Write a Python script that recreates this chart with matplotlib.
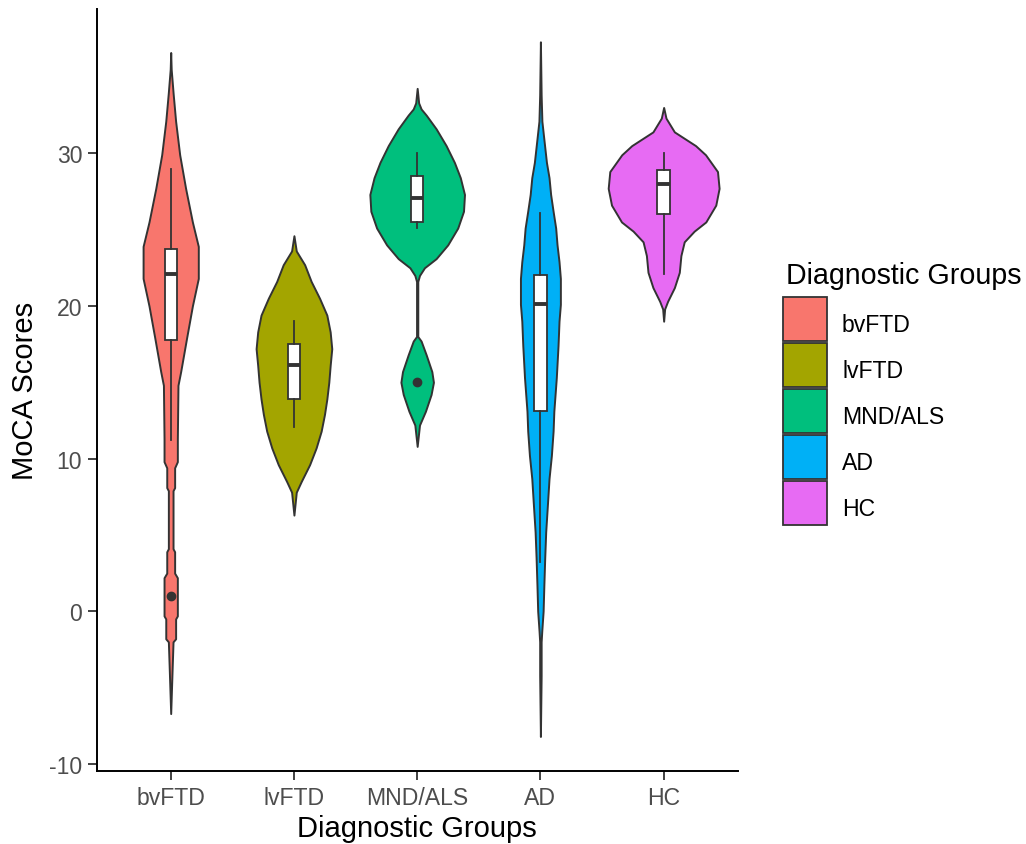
import matplotlib
matplotlib.use("Agg")
import matplotlib.pyplot as plt
from matplotlib.patches import Rectangle
import numpy as np

plt.rcParams['font.family'] = ['Liberation Sans', 'DejaVu Sans']

# Groups and ggplot hue colours
groups = ["bvFTD", "lvFTD", "MND/ALS", "AD", "HC"]
colors = ["#F8766D", "#A3A500", "#00BF7D", "#00B0F6", "#E76BF3"]

# Violin outlines: score level and half width (x units)
bvftd_y = [36.6, 35.5, 33.9, 32.1, 29.9, 27.7, 25.5, 23.9, 21.8, 20.0, 17.9, 15.7, 14.8, 11.3,
           9.8, 9.4, 8.1, 7.9, 4.1, 3.9, 2.5, 2.2, -0.3, -0.5, -1.8, -2.0, -3.7, -6.7]
bvftd_w = [0, .004, .020, .040, .073, .121, .176, .224, .224, .176, .129, .081, .059, .054,
           .054, .032, .032, .019, .019, .032, .032, .054, .054, .040, .040, .019, .012, 0]

lvftd_y = [24.6, 23.6, 22.7, 21.6, 20.5, 19.4, 18.3, 17.2, 16.1, 15.0, 13.9, 12.9, 11.8, 10.7,
           9.6, 8.5, 7.8, 6.3]
lvftd_w = [0, .019, .087, .140, .208, .267, .294, .307, .294, .283, .267, .248, .221, .180,
           .127, .059, .019, 0]

mnd_y = [34.25, 33.3, 32.9, 32.5, 31.6, 30.5, 29.4, 28.4, 27.3, 26.2, 25.1, 24.0, 23.1, 22.5,
         22.0, 21.6, 18.0, 17.7, 16.8, 15.7, 15.0, 14.2, 13.1, 12.2, 10.8]
mnd_w = [0, .012, .032, .073, .154, .235, .302, .350, .384, .376, .329, .248, .154, .059,
         .019, .005, .005, .032, .073, .119, .132, .113, .067, .019, 0]

ad_y = [37.3, 33.8, 32.1, 31.0, 29.4, 28.4, 27.3, 26.2, 25.1, 24.0, 22.9, 21.8, 20.1, 19.0,
        17.4, 15.3, 13.1, 11.8, 10.2, 8.7, 7.0, 5.2, 3.5, 1.7, 0.0, -1.3, -2.0, -4.2, -8.2]
ad_w = [0, .006, .012, .027, .049, .070, .083, .103, .124, .135, .151, .162, .162, .151,
        .143, .129, .109, .103, .089, .070, .057, .043, .035, .028, .022, .011, .006, .006, 0]

hc_y = [33.0, 32.3, 31.4, 30.5, 29.9, 28.8, 27.7, 26.6, 25.5, 24.9, 24.2, 23.3, 22.2, 21.2,
        20.3, 19.8, 19.0]
hc_w = [0, .019, .087, .259, .340, .437, .450, .423, .342, .248, .167, .140, .127, .087,
        .032, .008, 0]

violin_y = [bvftd_y, lvftd_y, mnd_y, ad_y, hc_y]
violin_w = [bvftd_w, lvftd_w, mnd_w, ad_w, hc_w]

# Box plot summaries
q1 = [17.75, 13.9, 25.5, 13.1, 26.0]
med = [22.1, 16.1, 27.1, 20.1, 28.0]
q3 = [23.7, 17.5, 28.5, 22.0, 28.9]
whis_lo = [11.2, 12.1, 25.1, 3.25, 22.1]
whis_hi = [29.0, 19.0, 30.0, 26.1, 30.0]
outliers = [[1.0], [], [15.0], [], []]

yticks = [-10, 0, 10, 20, 30]

W, H = 1026, 845
fig = plt.figure(figsize=(W / 100, H / 100), dpi=100)
ax = fig.add_axes([0.0943, 0.0864, 0.6246, 0.9018])

edge = "#333333"
for i, (yy, ww) in enumerate(zip(violin_y, violin_w)):
    pos = i + 1
    yy = np.array(yy)
    ww = np.array(ww)
    ax.fill_betweenx(yy, pos - ww, pos + ww, facecolor=colors[i], edgecolor=edge,
                     linewidth=1.4, zorder=2)

stats = []
for i in range(len(groups)):
    stats.append(dict(med=med[i], q1=q1[i], q3=q3[i], whislo=whis_lo[i], whishi=whis_hi[i],
                      fliers=outliers[i]))
ax.bxp(stats, positions=range(1, 6), widths=0.1, showcaps=False, patch_artist=True,
       boxprops=dict(facecolor="white", edgecolor=edge, linewidth=1.3),
       medianprops=dict(color=edge, linewidth=2.8),
       whiskerprops=dict(color=edge, linewidth=1.3),
       flierprops=dict(marker="o", markerfacecolor=edge, markeredgecolor=edge, markersize=6),
       zorder=3)

ax.set_xlim(0.4, 5.6)
ax.set_ylim(-10.46, 39.45)
ax.set_xticks(range(1, 6))
ax.set_xticklabels(groups)
ax.set_yticks(yticks)
ax.set_yticklabels([str(t) for t in yticks])
for s in ["top", "right"]:
    ax.spines[s].set_visible(False)
for s in ["left", "bottom"]:
    ax.spines[s].set_linewidth(1.4)
    ax.spines[s].set_color("black")
ax.tick_params(axis="both", length=6.5, width=1.3, color=edge, labelcolor="#4D4D4D",
               labelsize=16.6, pad=4)
ax.set_xlabel("Diagnostic Groups", fontsize=21, labelpad=4)
ax.set_ylabel("MoCA Scores", fontsize=21, labelpad=7)

# legend drawn by hand (ggplot style keys stacked with no gap)
key_x, key_top, key_size, key_step = 783, 298, 44, 46
fig.text(786 / W, 1 - 284 / H, "Diagnostic Groups", fontsize=20.6, ha="left", va="baseline")
for i, (g, c) in enumerate(zip(groups, colors)):
    top = key_top + i * key_step
    fig.add_artist(Rectangle((key_x / W, 1 - (top + key_size) / H), key_size / W, key_size / H,
                             transform=fig.transFigure, facecolor=c, edgecolor=edge,
                             linewidth=1.3))
    fig.text(842 / W, 1 - (top + 34) / H, g, fontsize=16.6, ha="left", va="baseline")

fig.savefig("out.png", dpi=100)
